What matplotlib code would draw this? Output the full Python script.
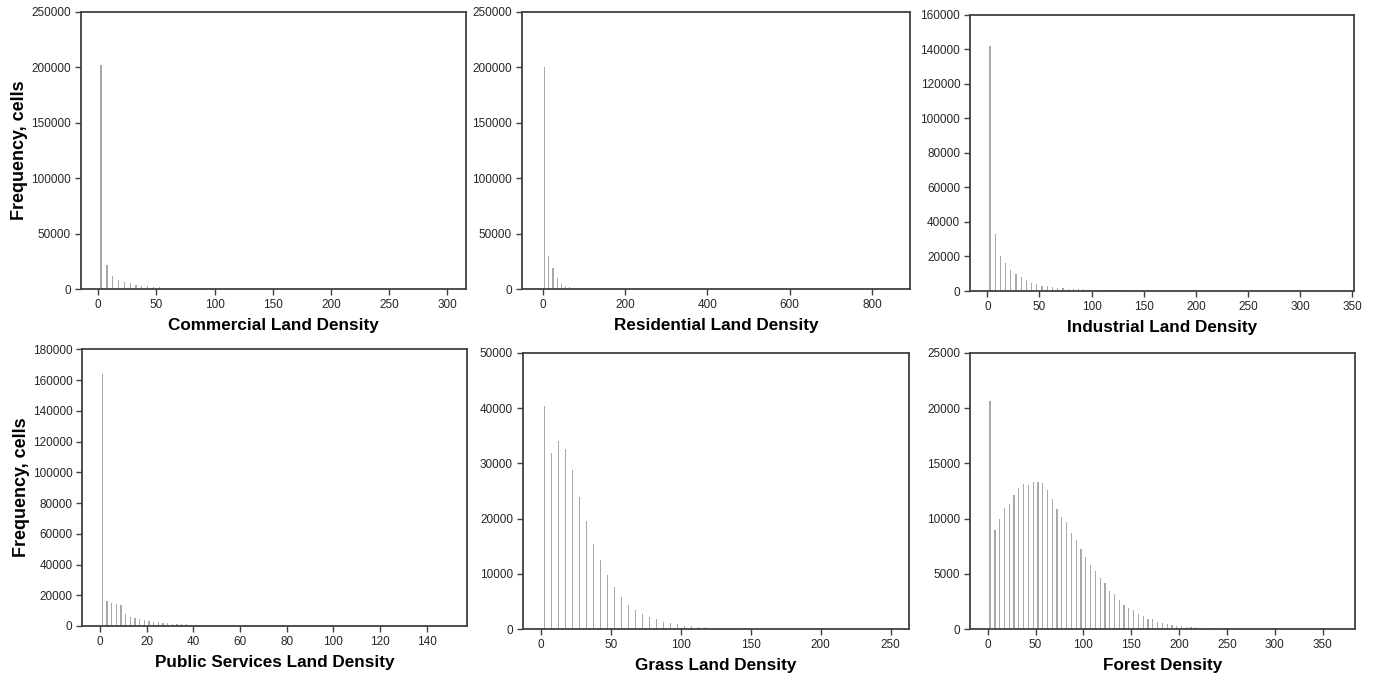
import matplotlib
matplotlib.use("Agg")
import matplotlib.pyplot as plt
import numpy as np

plt.rcParams['font.family'] = ['Liberation Sans', 'DejaVu Sans']

# ---------------- data (histogram frequencies, cells) ----------------
commercial_bin = 5
commercial_freq = [202000, 21600, 11700, 8400, 6300, 5100, 3900, 3000, 2400, 1800,
                   1500, 1200, 900, 800, 650, 500, 400, 300, 220]

residential_bin = 10
residential_freq = [200000, 29800, 18600, 9900, 4800, 3000, 1800, 1200, 900, 700,
                    500, 400, 300]

industrial_bin = 5
industrial_freq = [142000, 32800, 20500, 16200, 12200, 9850, 8100, 6560, 4630, 4050,
                   3090, 2700, 2100, 1900, 1600, 1400, 1200, 1050, 900, 800,
                   700, 600, 520, 450, 380, 320, 270, 220, 180, 150]

public_bin = 2
public_freq = [164000, 16500, 15200, 14300, 13400, 7600, 6100, 5200, 4500, 3900,
               3250, 2800, 2400, 2000, 1750, 1500, 1300, 1150, 1000, 900,
               800, 700, 620, 550, 480, 420, 370, 320, 280, 240]

grass_bin = 5
grass_freq = [40300, 31800, 34000, 32600, 28850, 23850, 19640, 15480, 12470, 9820,
              7650, 5780, 4400, 3550, 2830, 2230, 1800, 1330, 1080, 900,
              650, 540, 420, 360, 300, 240, 200, 150, 120, 100, 80, 60]

forest_bin = 5
forest_freq = [20660, 8950, 9940, 10930, 11330, 12110, 12800, 13100, 13070, 13280,
               13310, 13190, 12590, 11810, 10900, 10120, 9670, 8730, 8070, 7260,
               6500, 5810, 5240, 4640, 4160, 3490, 3160, 2650, 2200, 1900,
               1750, 1390, 1200, 960, 900, 690, 540, 450, 390, 330,
               300, 250, 200, 170, 140, 120, 100, 80, 65, 50, 40, 30, 20]

xlabels = ["Commercial Land Density", "Residential Land Density", "Industrial Land Density",
           "Public Services Land Density", "Grass Land Density", "Forest Density"]
ylabel = "Frequency, cells"

# ---------------- layout ----------------
W, H = 1376, 679
fig = plt.figure(figsize=(W / 100, H / 100), dpi=100)

def rect(l, r, t, b):
    return [l / W, 1 - b / H, (r - l) / W, (b - t) / H]

panels = [
    dict(freq=commercial_freq, bw=commercial_bin, rect=rect(80.7, 466, 12, 289),
         xlim=(-15, 316), xticks=np.arange(0, 301, 50), ylim=250000, ystep=50000, wf=0.22),
    dict(freq=residential_freq, bw=residential_bin, rect=rect(521.7, 910, 12, 289),
         xlim=(-51, 892), xticks=np.arange(0, 801, 200), ylim=250000, ystep=50000, wf=0.29),
    dict(freq=industrial_freq, bw=industrial_bin, rect=rect(970, 1354, 14.7, 291),
         xlim=(-16.6, 351.5), xticks=np.arange(0, 351, 50), ylim=160000, ystep=20000, wf=0.24),
    dict(freq=public_freq, bw=public_bin, rect=rect(82.3, 467.3, 349.3, 626),
         xlim=(-7.6, 157.4), xticks=np.arange(0, 141, 20), ylim=180000, ystep=20000, wf=0.26),
    dict(freq=grass_freq, bw=grass_bin, rect=rect(522.7, 908.7, 352.7, 629.3),
         xlim=(-13.3, 263), xticks=np.arange(0, 251, 50), ylim=50000, ystep=10000, wf=0.18),
    dict(freq=forest_freq, bw=forest_bin, rect=rect(970, 1354.7, 352.7, 629.3),
         xlim=(-18.5, 383.5), xticks=np.arange(0, 351, 50), ylim=25000, ystep=5000, wf=0.26),
]

spine_col = '#404040'
bar_col = '#a8a8a8'
tick_col = '#262626'

for i, p in enumerate(panels):
    ax = fig.add_axes(p['rect'])
    freq = np.array(p['freq'])
    centers = p['bw'] * (np.arange(len(freq)) + 0.5)
    ax.bar(centers, freq, width=p['bw'] * p['wf'], color=bar_col,
           linewidth=0, align='center')
    ax.set_xlim(*p['xlim'])
    ax.set_ylim(0, p['ylim'])
    ax.set_xticks(p['xticks'])
    ax.set_yticks(np.arange(0, p['ylim'] + 1, p['ystep']))
    ax.yaxis.set_major_formatter(matplotlib.ticker.FuncFormatter(lambda v, pos: f"{int(v)}"))
    for s in ax.spines.values():
        s.set_color(spine_col)
        s.set_linewidth(1.3)
    ax.tick_params(direction='out', length=4, width=1, color=spine_col,
                   labelsize=8.5, labelcolor=tick_col, pad=3)
    ax.set_xlabel(xlabels[i], fontsize=12.3, fontweight='bold', labelpad=5)
    if i % 3 == 0:
        ax.set_ylabel(ylabel, fontsize=13, fontweight='bold', labelpad=2)

fig.savefig("out.png", dpi=100)
